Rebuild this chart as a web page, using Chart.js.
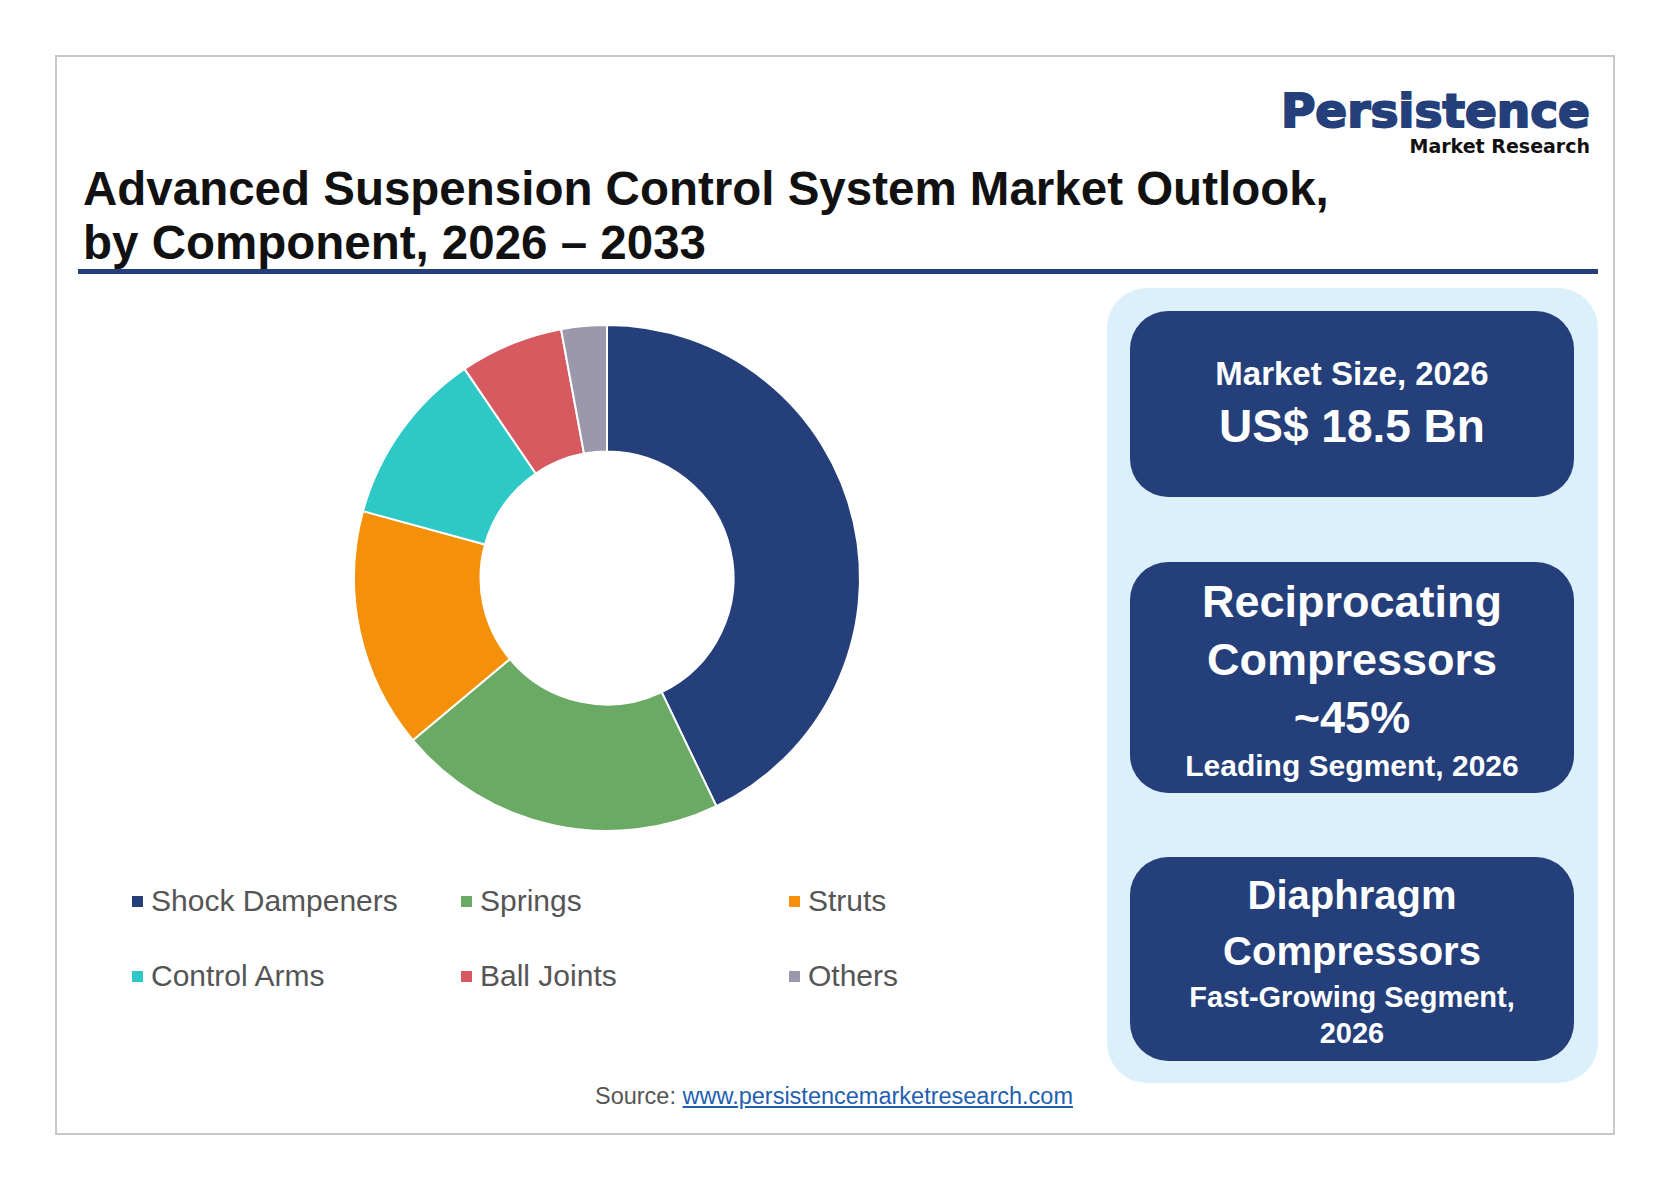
<!DOCTYPE html>
<html><head><meta charset="utf-8">
<script src="https://cdn.jsdelivr.net/npm/chart.js@4"></script>
<style>
body{margin:0;width:1668px;height:1188px;background:#fff;font-family:Arial,"Liberation Sans",sans-serif;position:relative;overflow:hidden}
.frame{position:absolute;left:55px;top:55px;width:1556px;height:1076px;border:2px solid #c8c8c8}
.title{position:absolute;left:83px;top:162px;font-size:47.5px;font-weight:bold;line-height:54px;color:#111}
.rule{position:absolute;left:78px;top:269px;width:1520px;height:5px;background:#243f7a}
.logo{position:absolute;right:78px;top:86px;text-align:right;font-family:"DejaVu Sans",sans-serif;font-weight:bold;color:#243f7a}
.logo .a{font-size:47px;line-height:50px;-webkit-text-stroke:2px #243f7a}
.logo .b{font-size:19px;color:#111;line-height:20px}
.panel{position:absolute;left:1107px;top:288px;width:491px;height:795px;background:#dcf0fc;border-radius:40px}
.box{position:absolute;left:1130px;width:444px;background:#243f7a;border-radius:38px;color:#fff;text-align:center;font-weight:bold;display:flex;flex-direction:column;justify-content:center}
.legend{position:absolute;left:132px;top:884px;width:900px}
.li{position:absolute;font-size:30px;color:#555;white-space:nowrap}
.li span{display:inline-block;width:11px;height:11px;margin-right:8px;vertical-align:middle;position:relative;top:-2px}
.src{position:absolute;left:0;width:1668px;top:1083px;text-align:center;font-size:23.5px;color:#555}
.src a{color:#1f5fb0;text-decoration:underline}
#wrap{position:absolute;left:347px;top:318px;width:520px;height:520px}
</style></head><body>
<div class="frame"></div>
<div class="logo"><div class="a">Persistence</div><div class="b">Market Research</div></div>
<div class="title">Advanced Suspension Control System Market Outlook,<br>by Component, 2026 – 2033</div>
<div class="rule"></div>
<div id="wrap"><canvas id="c"></canvas></div>
<div class="legend" id="lg"></div>
<div class="panel"></div>
<div class="box" style="top:311px;height:186px"><div style="font-size:33px">Market Size, 2026</div><div style="font-size:46px;margin-top:6px">US$ 18.5 Bn</div></div>
<div class="box" style="top:562px;height:231px"><div style="font-size:45px;line-height:58px">Reciprocating<br>Compressors<br>~45%</div><div style="font-size:30px;margin-top:2px">Leading Segment, 2026</div></div>
<div class="box" style="top:857px;height:204px"><div style="font-size:40px;line-height:56px">Diaphragm<br>Compressors</div><div style="font-size:29px;line-height:36px">Fast-Growing Segment,<br>2026</div></div>
<div class="src">Source: <a>www.persistencemarketresearch.com</a></div>
<script>
const categories = ["Shock Dampeners","Springs","Struts","Control Arms","Ball Joints","Others"];
const shares = [42.8, 21.0, 15.3, 11.2, 6.6, 2.9];
const colors = ["#243f7a","#6aaa64","#f5900a","#2ec9c6","#d65a5f","#9a98aa"];

const lg = document.getElementById("lg");
const cols = [0, 329, 657];
categories.forEach((name, i) => {
  const d = document.createElement("div");
  d.className = "li";
  d.style.left = cols[i % 3] + "px";
  d.style.top = (Math.floor(i / 3) * 75) + "px";
  d.innerHTML = '<span style="background:' + colors[i] + '"></span>' + name;
  lg.appendChild(d);
});

new Chart(document.getElementById("c"), {
  type: "doughnut",
  data: {
    labels: categories,
    datasets: [{ data: shares, backgroundColor: colors, borderColor: "#fff", borderWidth: 2 }]
  },
  options: {
    responsive: true,
    maintainAspectRatio: false,
    animation: false,
    cutout: "50%",
    layout: { padding: 6 },
    plugins: { legend: { display: false }, tooltip: { enabled: false } }
  }
});
</script>
</body></html>
